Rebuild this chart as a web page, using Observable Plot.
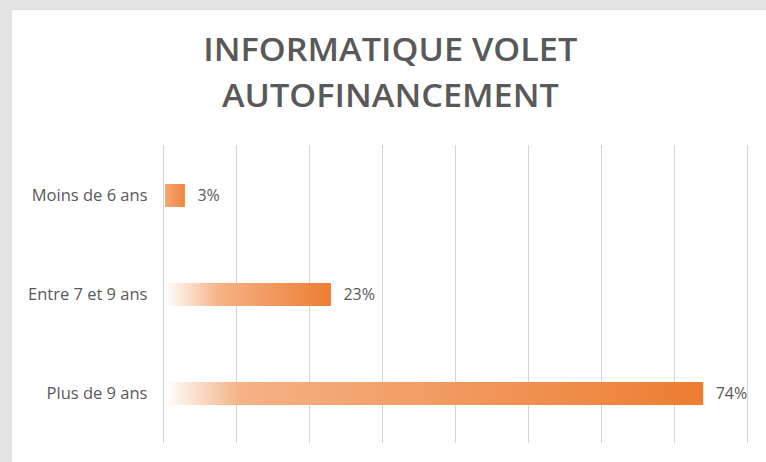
<!DOCTYPE html>
<html>
<head>
<meta charset="utf-8">
<script src="https://cdn.jsdelivr.net/npm/d3@7"></script>
<script src="https://cdn.jsdelivr.net/npm/@observablehq/plot@0.6"></script>
<style>
  html, body { margin: 0; padding: 0; width: 766px; height: 462px; overflow: hidden; background: #e4e4e4; position: relative; }
  #panel { position: absolute; left: 12px; top: 9px; width: 754px; height: 453px; background: #ffffff; border-top: 1px solid #dcdcdc; box-sizing: border-box; }
  #title { position: absolute; left: 0; top: 26px; width: 780px; text-align: center; font-family: "Open Sans", sans-serif; font-weight: 600; font-size: 33px; line-height: 46px; color: #595959; }
  #title span { display: inline-block; white-space: nowrap; transform-origin: 50% 50%; }
  #chart { position: absolute; left: 0; top: 130px; }
</style>
</head>
<body>
<div id="panel"></div>
<div id="title"><span id="t1">INFORMATIQUE VOLET</span><br><span id="t2">AUTOFINANCEMENT</span></div>
<div id="chart"></div>
<script>
const titleLines = ["INFORMATIQUE VOLET", "AUTOFINANCEMENT"];
const categories = ["Moins de 6 ans", "Entre 7 et 9 ans", "Plus de 9 ans"];
const values = [3, 23, 74];
const xTicks = [0, 10, 20, 30, 40, 50, 60, 70, 80];

document.getElementById("t1").textContent = titleLines[0];
document.getElementById("t2").textContent = titleLines[1];
// condense title horizontally to match the narrow face of the original
const t1 = document.getElementById("t1");
const sx = 374 / t1.getBoundingClientRect().width;
document.querySelectorAll("#title span").forEach(s => s.style.transform = `scaleX(${sx})`);

const data = categories.map((c, i) => ({category: c, value: values[i]}));

const chart = Plot.plot({
  width: 766,
  height: 332,
  marginLeft: 163,
  marginRight: 19,
  marginTop: 15,
  marginBottom: 19,
  style: {background: "transparent", fontFamily: "'Open Sans', sans-serif"},
  x: {domain: [0, 80], axis: null},
  y: {domain: categories, paddingInner: 0.77, paddingOuter: 0.385, label: null},
  marks: [
    Plot.ruleX(xTicks, {stroke: "#d4d4d4", strokeWidth: 1}),
    Plot.barX(data, {x: d => d.value, y: "category", fill: "#ed7d31", insetLeft: 2, className: "gbar"}),
    Plot.text(data, {x: d => d.value, y: "category", text: d => d.value + "%", textAnchor: "start", dx: 12, fontSize: 16, fill: "#595959"}),
    Plot.axisY({tickSize: 0, tickPadding: 16, fontSize: 16.5, color: "#595959", label: null})
  ]
});

// per-bar gradients (white fading into orange)
const svg = d3.select(chart);
const defs = svg.insert("defs", ":first-child");
svg.selectAll(".gbar rect").each(function(_, i) {
  const r = d3.select(this);
  const w = +r.attr("width");
  const id = "grad" + i;
  const g = defs.append("linearGradient").attr("id", id).attr("x1", 0).attr("x2", 1).attr("y1", 0).attr("y2", 0);
  if (w > 60) {
    const f = Math.min(0.33, 75 / w);
    g.append("stop").attr("offset", 0).attr("stop-color", "#ffffff");
    g.append("stop").attr("offset", f).attr("stop-color", "#f5b286");
    g.append("stop").attr("offset", 1).attr("stop-color", "#ed7d31");
  } else {
    g.append("stop").attr("offset", 0).attr("stop-color", "#f5a874");
    g.append("stop").attr("offset", 1).attr("stop-color", "#ee8440");
  }
  r.attr("fill", `url(#${id})`);
});

document.getElementById("chart").appendChild(chart);
</script>
</body>
</html>
